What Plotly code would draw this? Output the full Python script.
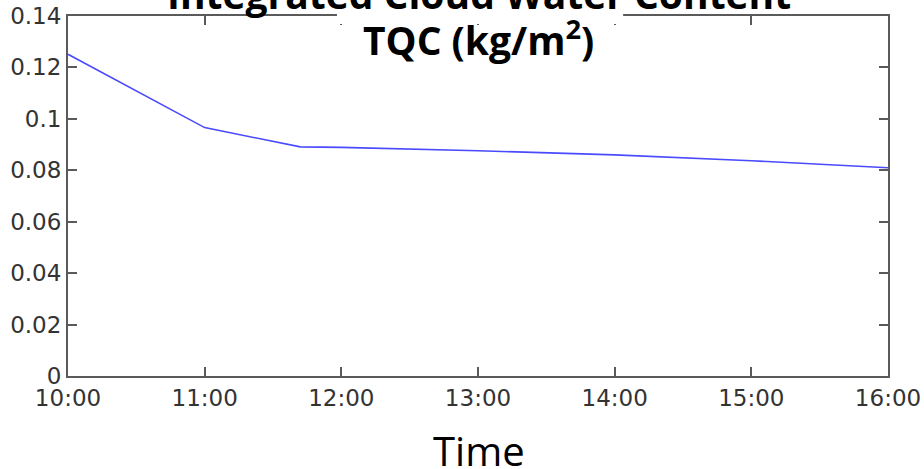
import plotly.graph_objects as go

times = ["2020-01-01 10:00", "2020-01-01 11:00", "2020-01-01 11:42",
         "2020-01-01 12:00", "2020-01-01 13:00", "2020-01-01 14:00",
         "2020-01-01 15:00", "2020-01-01 16:00"]
tqc = [0.1251, 0.0966, 0.0891, 0.0889, 0.0876, 0.0860, 0.0837, 0.0810]

tick_vals = ["2020-01-01 10:00", "2020-01-01 11:00", "2020-01-01 12:00",
             "2020-01-01 13:00", "2020-01-01 14:00", "2020-01-01 15:00",
             "2020-01-01 16:00"]
tick_text = ["10:00", "11:00", "12:00", "13:00", "14:00", "15:00", "16:00"]
y_ticks = [0, 0.02, 0.04, 0.06, 0.08, 0.1, 0.12, 0.14]
y_text = ["0", "0.02", "0.04", "0.06", "0.08", "0.1", "0.12", "0.14"]

title_line1 = "Integrated Cloud Water Content"
title_line2 = "TQC (kg/m<sup>2</sup>)"
xlabel = "Time"

fig = go.Figure()
fig.add_trace(go.Scatter(x=times, y=tqc, mode="lines",
                         line=dict(color="#4a4aff", width=1.6),
                         showlegend=False, hoverinfo="skip"))

axis_common = dict(showline=True, linecolor="#5a5a5a", linewidth=2,
                   mirror="ticks", ticks="inside", ticklen=9, tickwidth=1.5,
                   tickcolor="#5a5a5a", showgrid=False, zeroline=False,
                   automargin=False,
                   tickfont=dict(family="DejaVu Sans", size=23, color="#333333"))

fig.update_xaxes(range=["2020-01-01 10:00", "2020-01-01 16:00"],
                 tickvals=tick_vals, ticktext=tick_text, **axis_common)
fig.update_yaxes(range=[0, 0.14], tickvals=y_ticks, ticktext=y_text, **axis_common)

fig.update_layout(
    width=924, height=469,
    margin=dict(l=68, r=36, t=16, b=93),
    plot_bgcolor="white", paper_bgcolor="white",
    shapes=[dict(type="rect", xref="paper", yref="paper",
                 x0=0.328, x1=0.677, y0=0.978, y1=1.06,
                 fillcolor="white", line=dict(width=0), layer="above")],
    annotations=[
        dict(text="<b>" + title_line1 + "</b>", xref="paper", yref="paper",
             x=0.501, y=0.984, xanchor="center", yanchor="bottom",
             showarrow=False,
             font=dict(family="Open Sans", size=39, color="black")),
        dict(text="<b>" + title_line2 + "</b>", xref="paper", yref="paper",
             x=0.501, y=0.8556, xanchor="center", yanchor="bottom",
             showarrow=False,
             font=dict(family="Open Sans", size=39, color="black")),
        dict(text=xlabel, xref="paper", yref="paper", x=0.501, y=-0.126,
             xanchor="center", yanchor="top", showarrow=False,
             font=dict(family="Open Sans", size=40, color="black")),
    ],
)

fig.write_html("out.html")
